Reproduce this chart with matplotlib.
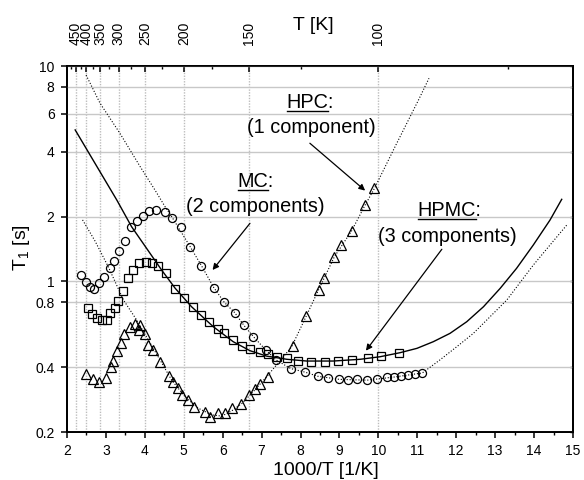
import matplotlib
matplotlib.use("Agg")
import matplotlib.pyplot as plt
from matplotlib.lines import Line2D
from matplotlib.ticker import FixedLocator, FixedFormatter, NullLocator, MultipleLocator

plt.rcParams['font.family'] = ['Liberation Sans', 'DejaVu Sans']
plt.rcParams['mathtext.fontset'] = 'custom'
plt.rcParams['mathtext.rm'] = 'Liberation Sans'

# ---- measured T1 values ----
# HPC (1 component), triangles
hpc_x = [2.49, 2.66, 2.81, 2.99, 3.13, 3.19, 3.29, 3.39, 3.47, 3.61, 3.75, 3.84, 3.88,
         4.00, 4.08, 4.21, 4.40, 4.63, 4.72, 4.85, 4.96, 5.10, 5.26, 5.54, 5.67, 5.87,
         6.05, 6.25, 6.47, 6.68, 6.83, 6.96, 7.17, 7.80, 8.15, 8.47, 8.61, 8.87, 9.05,
         9.31, 9.65, 9.89]
hpc_t1 = [0.372, 0.352, 0.342, 0.357, 0.402, 0.427, 0.477, 0.516, 0.570, 0.616, 0.634,
          0.592, 0.628, 0.568, 0.508, 0.480, 0.424, 0.365, 0.341, 0.319, 0.297, 0.281,
          0.260, 0.248, 0.235, 0.244, 0.244, 0.258, 0.270, 0.297, 0.316, 0.333, 0.360,
          0.503, 0.689, 0.912, 1.037, 1.305, 1.476, 1.714, 2.263, 2.706]

# MC (2 components), circles
mc_x = [2.36, 2.48, 2.59, 2.69, 2.81, 2.95, 3.10, 3.22, 3.34, 3.49, 3.64, 3.79, 3.95,
        4.11, 4.29, 4.51, 4.70, 4.94, 5.16, 5.45, 5.77, 6.04, 6.31, 6.54, 6.79, 7.11,
        7.37, 7.75, 8.12, 8.44, 8.71, 9.00, 9.23, 9.46, 9.71, 9.97, 10.23, 10.41, 10.59,
        10.77, 10.94, 11.13]
mc_t1 = [1.067, 0.990, 0.939, 0.922, 0.980, 1.045, 1.157, 1.247, 1.383, 1.545, 1.783,
         1.913, 2.012, 2.130, 2.145, 2.092, 1.976, 1.789, 1.444, 1.179, 0.937, 0.800,
         0.716, 0.627, 0.554, 0.480, 0.432, 0.394, 0.379, 0.363, 0.356, 0.351, 0.348,
         0.351, 0.348, 0.352, 0.359, 0.360, 0.364, 0.367, 0.371, 0.376]

# HPMC (3 components), squares
hpmc_x = [2.53, 2.64, 2.77, 2.90, 3.02, 3.11, 3.23, 3.32, 3.44, 3.58, 3.70, 3.86, 4.03,
          4.18, 4.35, 4.55, 4.78, 5.00, 5.23, 5.44, 5.65, 5.87, 6.04, 6.26, 6.49, 6.71,
          6.95, 7.16, 7.40, 7.65, 7.94, 8.28, 8.63, 8.97, 9.32, 9.73, 10.06, 10.54]
hpmc_t1 = [0.755, 0.708, 0.676, 0.662, 0.664, 0.713, 0.752, 0.815, 0.905, 1.034, 1.130,
           1.224, 1.231, 1.224, 1.179, 1.094, 0.920, 0.834, 0.763, 0.698, 0.651, 0.601,
           0.574, 0.533, 0.503, 0.486, 0.470, 0.458, 0.446, 0.442, 0.428, 0.424, 0.423,
           0.427, 0.433, 0.442, 0.450, 0.467]

# ---- fitted curves ----
hpc_fit_x = [2.40, 2.72, 3.06, 3.45, 3.79, 4.00, 4.39, 4.69, 5.03, 5.37, 5.72, 5.98,
             6.25, 6.50, 6.80, 7.13, 7.77, 8.14, 8.46, 8.87, 9.31, 9.66, 9.90, 10.45,
             11.03, 11.30]
hpc_fit_t1 = [1.93, 1.54, 1.17, 0.820, 0.662, 0.570, 0.432, 0.348, 0.292, 0.258, 0.240,
              0.237, 0.252, 0.272, 0.310, 0.361, 0.497, 0.686, 0.912, 1.302, 1.714,
              2.263, 2.706, 4.30, 6.95, 8.77]

mc_fit_x = [2.49, 2.85, 3.36, 3.88, 4.26, 4.52, 4.70, 4.94, 5.17, 5.46, 5.77, 6.04,
            6.31, 6.54, 6.79, 7.11, 7.37, 7.75, 8.12, 8.44, 9.00, 9.71, 10.41, 11.13,
            11.58, 12.01, 12.44, 12.87, 13.30, 13.98, 14.41, 14.84]
mc_fit_t1 = [9.08, 6.71, 4.87, 3.41, 2.656, 2.222, 1.985, 1.687, 1.444, 1.179, 0.937,
             0.800, 0.716, 0.627, 0.554, 0.480, 0.432, 0.394, 0.379, 0.363, 0.351, 0.348,
             0.360, 0.376, 0.432, 0.497, 0.574, 0.686, 0.820, 1.191, 1.476, 1.827]

hpmc_fit_x = [2.21, 3.28, 3.66, 4.43, 4.78, 5.20, 5.76, 6.27, 6.70, 7.13, 7.65, 8.16,
              8.84, 9.53, 10.04, 10.56, 10.99, 11.41, 11.84, 12.27, 12.70, 13.13,
              13.55, 13.98, 14.41, 14.71]
hpmc_fit_t1 = [5.05, 2.386, 1.794, 1.130, 0.929, 0.763, 0.616, 0.525, 0.477, 0.450,
               0.435, 0.427, 0.427, 0.435, 0.447, 0.467, 0.489, 0.525, 0.574, 0.650,
               0.763, 0.929, 1.150, 1.476, 1.928, 2.405]

# ---- axes ticks ----
y_ticks = [0.2, 0.4, 0.8, 1, 2, 4, 6, 8, 10]
y_tick_labels = ["0.2", "0.4", "0.8", "1", "2", "4", "6", "8", "10"]
temp_major = [450, 400, 350, 300, 250, 200, 150, 100]
temp_minor = [475, 425, 375, 325, 275, 225, 175, 125, 75]

fig = plt.figure(figsize=(5.84, 4.8), dpi=100)
ax = fig.add_axes([67 / 584, 48 / 480, 506 / 584, 366 / 480])
ax_top = ax.twiny()
ax_right = ax.twinx()
ax.set_zorder(3)
ax.patch.set_visible(False)

ax.set_yscale('log')
ax.set_xlim(2, 15)
ax.set_ylim(0.2, 10)
ax.yaxis.set_major_locator(FixedLocator(y_ticks))
ax.yaxis.set_major_formatter(FixedFormatter(y_tick_labels))
ax.yaxis.set_minor_locator(NullLocator())
ax.xaxis.set_major_locator(MultipleLocator(1))
ax.xaxis.set_minor_locator(MultipleLocator(0.5))

for a in (ax, ax_top, ax_right):
    for s in a.spines.values():
        s.set_linewidth(1.2)

ax.tick_params(axis='x', which='major', direction='out', length=4, width=1.1,
               labelsize=10, pad=4.5, top=False)
ax.tick_params(axis='x', which='minor', direction='out', length=2.4, width=1.0, top=False)
ax.tick_params(axis='y', which='major', direction='out', length=4.5, width=1.1,
               labelsize=10, pad=4.5, right=False)
ax.yaxis.grid(True, color='#c8c8c8', lw=1.0, ls='-')

# right axis: inward ticks only
ax_right.set_yscale('log')
ax_right.set_ylim(0.2, 10)
ax_right.yaxis.set_major_locator(FixedLocator(y_ticks))
ax_right.yaxis.set_minor_locator(NullLocator())
ax_right.tick_params(axis='y', which='major', direction='in', length=2.5, width=1.0,
                     labelright=False)

# top axis: temperature in K
ax_top.set_xlim(2, 15)
ax_top.set_xticks([1000 / t for t in temp_major])
ax_top.set_xticklabels([str(t) for t in temp_major], rotation=90)
ax_top.set_xticks([1000 / t for t in temp_minor], minor=True)
ax_top.tick_params(axis='x', which='major', direction='in', length=4, width=1.1,
                   labelsize=10, pad=15)
ax_top.tick_params(axis='x', which='minor', direction='in', length=2.2, width=1.0)
ax_top.xaxis.grid(True, which='major', color='#bdbdbd', lw=1.0, ls=(0, (1, 1)))

# fits
ax.plot(hpc_fit_x, hpc_fit_t1, color='black', lw=0.8, ls=':')
ax.plot(mc_fit_x, mc_fit_t1, color='black', lw=0.8, ls=':')
ax.plot(hpmc_fit_x, hpmc_fit_t1, color='black', lw=1.0, ls='-')

# data
mkw = dict(ls='none', mfc='none', mec='black', mew=0.9)
ax.plot(hpc_x, hpc_t1, marker='^', ms=7.5, **mkw)
ax.plot(mc_x, mc_t1, marker='o', ms=5.8, **mkw)
ax.plot(hpmc_x, hpmc_t1, marker='s', ms=5.6, **mkw)

ax.set_xlabel('1000/T [1/K]', fontsize=14)
ax.xaxis.label.set_va('center')
ax.xaxis.set_label_coords(0.512, -0.104)
ax.set_ylabel(r'T$_\mathregular{1}$ [s]', fontsize=14)
ax.yaxis.label.set_va('center')
ax.yaxis.set_label_coords(-0.089, 0.503)
fig.text(313 / 584, 1 - 25 / 480, 'T [K]', fontsize=14, ha='center', va='center')

# annotations
label_fs = 14.3
labels = [
    ("HPC", ":", 8.24, 6.38, "(1 component)", 8.28, 4.89),
    ("MC", ":", 6.84, 2.735, "(2 components)", 6.85, 2.106),
    ("HPMC", ":", 11.82, 2.012, "(3 components)", 11.78, 1.529),
]
heads = []
for head, tail, hx, hy, sub, sx, sy in labels:
    t = ax.text(hx, hy, head + tail, fontsize=label_fs, ha='center', va='baseline', zorder=5)
    ax.text(sx, sy, sub, fontsize=label_fs, ha='center', va='baseline', zorder=5)
    heads.append((t, head, hx, hy))

arrow_kw = dict(arrowstyle='-|>', lw=0.9, color='black', mutation_scale=9,
                shrinkA=0, shrinkB=0)
ax.annotate('', xy=(9.66, 2.64), xytext=(8.24, 4.38), arrowprops=arrow_kw)
ax.annotate('', xy=(5.74, 1.13), xytext=(6.70, 1.86), arrowprops=arrow_kw)
ax.annotate('', xy=(9.68, 0.477), xytext=(11.63, 1.41), arrowprops=arrow_kw)

# underline the sample names
fig.canvas.draw()
renderer = fig.canvas.get_renderer()
to_fig = fig.transFigure.inverted()
for t, head, hx, hy in heads:
    bb = t.get_window_extent(renderer)
    w, h, d = renderer.get_text_width_height_descent(head, t.get_fontproperties(), ismath=False)
    base_y = ax.transData.transform((hx, hy))[1]
    y_line = base_y - 2.5
    (x0, y0) = to_fig.transform((bb.x0 + 0.5, y_line))
    (x1, y1) = to_fig.transform((bb.x0 + w, y_line))
    fig.add_artist(Line2D([x0, x1], [y0, y1], transform=fig.transFigure,
                          color='black', lw=1.0))

fig.savefig('out.png', dpi=100)
